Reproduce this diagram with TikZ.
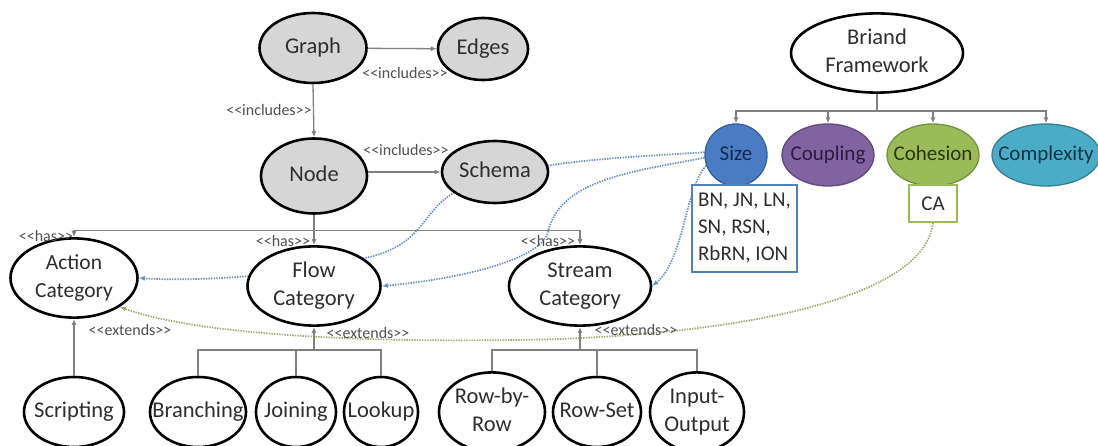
\documentclass[tikz,border=0pt]{standalone}
\usepackage{fontspec}
\setmainfont{Carlito}[Ligatures=TeXOff]
\usetikzlibrary{shapes.geometric,arrows.meta,backgrounds}

\definecolor{nodegray}{HTML}{D6D6D6}
\definecolor{txt}{HTML}{2E2E2E}
\definecolor{lblgray}{HTML}{505050}
\definecolor{linkgray}{HTML}{808080}
\definecolor{sizefill}{HTML}{4A7CC4}
\definecolor{sizedraw}{HTML}{35609A}
\definecolor{sizetext}{HTML}{15294A}
\definecolor{coupfill}{HTML}{8064A2}
\definecolor{coupdraw}{HTML}{5F4A7C}
\definecolor{couptext}{HTML}{2C1A42}
\definecolor{cohfill}{HTML}{9BBB59}
\definecolor{cohdraw}{HTML}{76903F}
\definecolor{cohtext}{HTML}{27360C}
\definecolor{cpxfill}{HTML}{4BACC6}
\definecolor{cpxdraw}{HTML}{377F93}
\definecolor{cpxtext}{HTML}{0F3347}
\definecolor{boxblue}{HTML}{4F81BD}
\definecolor{dotblue}{HTML}{6C8CC4}
\definecolor{dotolive}{HTML}{A3A66E}

\pgfdeclarelayer{canvas}
\pgfsetlayers{canvas,background,main}

% two-line centred text that never widens its ellipse
\newcommand{\ctext}[1]{\makebox[0pt]{\begin{tabular}{@{}c@{}}#1\end{tabular}}}
\newcommand{\mainsz}{\fontsize{22.5}{28}\selectfont}
\newcommand{\boxsz}{\fontsize{21}{27}\selectfont}
\newcommand{\lblsz}{\fontsize{16}{18}\selectfont}

\tikzset{
  oval/.style={ellipse, draw=black, line width=2.6pt, fill=white, inner sep=0pt,
               text=txt, font=\mainsz},
  grayoval/.style={oval, fill=nodegray},
  metric/.style={ellipse, inner sep=0pt, line width=1.3pt, font=\boxsz,
                 minimum height=62pt},
  connarrow/.style={draw=linkgray, line width=1.3pt, -{Latex[length=6pt,width=5pt]}},
  connline/.style={draw=linkgray, line width=1.3pt},
  stereo/.style={font=\lblsz, text=lblgray, inner sep=0pt},
  sizedot/.style={draw=dotblue, line width=1.7pt, dash pattern=on 1.4pt off 1.2pt,
                  -{Latex[length=6pt,width=5pt]}},
  cadot/.style={draw=dotolive, line width=1.7pt, dash pattern=on 1.4pt off 1.2pt,
                -{Latex[length=6pt,width=5pt]}},
  listbox/.style={draw, line width=2pt, fill=white, font=\boxsz, text=txt},
}

\begin{document}
\begin{tikzpicture}[x=1pt, y=-1pt]
\useasboundingbox (0,0) rectangle (1098,446);
\begin{pgfonlayer}{canvas}
  \fill[white] (0,0) rectangle (1098,446);
\end{pgfonlayer}

% ---- graph model ----
\node[grayoval, minimum width=107pt, minimum height=70pt] (graph) at (313,48) {\ctext{Graph}};
\node[grayoval, minimum width=90pt, minimum height=62pt] (edges) at (483,49) {\ctext{Edges}};
\node[grayoval, minimum width=106pt, minimum height=75pt] (node) at (314,176) {\ctext{Node}};
\node[grayoval, minimum width=106pt, minimum height=62pt] (schema) at (495,172) {\ctext{Schema}};

% ---- categories ----
\node[oval, minimum width=127pt, minimum height=72pt, font=\fontsize{21.5}{28}\selectfont] (action) at (74,278) {\ctext{Action\\Category}};
\node[oval, minimum width=133pt, minimum height=70pt] (flow) at (314,286) {\ctext{Flow\\Category}};
\node[oval, minimum width=142pt, minimum height=72pt] (stream) at (580,286) {\ctext{Stream\\Category}};

% ---- component kinds ----
\node[oval, minimum width=100pt, minimum height=70pt] (scripting) at (74,412) {\ctext{Scripting}};
\node[oval, minimum width=96pt, minimum height=70pt] (branching) at (198,412) {\ctext{Branching}};
\node[oval, minimum width=80pt, minimum height=70pt] (joining) at (296,412) {\ctext{Joining}};
\node[oval, minimum width=74pt, minimum height=70pt] (lookup) at (381,412) {\ctext{Lookup}};
\node[oval, minimum width=106pt, minimum height=70pt] (rowbyrow) at (492,412) {\ctext{Row-by-\\Row}};
\node[oval, minimum width=88pt, minimum height=70pt] (rowset) at (597,412) {\ctext{Row-Set}};
\node[oval, minimum width=94pt, minimum height=70pt] (inout) at (697,412) {\ctext{Input-\\Output}};

% ---- Briand framework ----
\node[oval, minimum width=172pt, minimum height=74pt] (briand) at (877,53) {\ctext{Briand\\Framework}};
\node[metric, fill=sizefill, draw=sizedraw, text=sizetext, minimum width=62pt] (size) at (736,155) {\ctext{Size}};
\node[metric, fill=coupfill, draw=coupdraw, text=couptext, minimum width=92pt] (coupling) at (828,155) {\ctext{Coupling}};
\node[metric, fill=cohfill, draw=cohdraw, text=cohtext, minimum width=92pt] (cohesion) at (933,155) {\ctext{Cohesion}};
\node[metric, fill=cpxfill, draw=cpxdraw, text=cpxtext, minimum width=108pt] (complexity) at (1046,155) {\ctext{Complexity}};
\node[listbox, draw=boxblue, minimum width=105pt, minimum height=87pt, align=left, inner sep=4pt] (sizebox) at (744.5,228.5) {BN, JN, LN,\\SN, RSN,\\RbRN, ION};
\node[listbox, draw=cohfill, minimum width=48pt, minimum height=37pt, inner sep=2pt] (ca) at (933,203.5) {CA};

% ---- includes ----
\draw[connarrow] (graph) -- (edges);
\node[stereo] (inc1) at (405,73) {<<includes>>};
\draw[connarrow] (graph.south) -- (node.north);
\node[stereo] (inc2) at (269,110) {<<includes>>};
\draw[connarrow] (node.east |- schema.west) -- (schema.west);
\node[stereo] (inc3) at (406,150) {<<includes>>};

% ---- has ----
\draw[connline] (node.south) -- ++(0,16) coordinate (hasj);
\draw[connarrow] (hasj) -| (action.north);
\draw[connarrow] (hasj) -- (flow.north);
\draw[connarrow] (hasj) -| (stream.north);
\node[stereo] (has1) at (46,236) {<<has>>};
\node[stereo] (has2) at (283,241) {<<has>>};
\node[stereo] (has3) at (548,241) {<<has>>};

% ---- extends ----
\draw[connarrow] (scripting.north) -- (action.south);
\node[stereo] (ext1) at (130,330) {<<extends>>};

\coordinate (fj) at (flow.south |- 0,350);
\draw[connline] (branching.north) -- (branching.north |- fj) -- (lookup.north |- fj) -- (lookup.north);
\draw[connline] (joining.north) -- (joining.north |- fj);
\draw[connarrow] (fj) -- (flow.south);
\node[stereo] (ext2) at (368,333) {<<extends>>};

\coordinate (sj) at (stream.south |- 0,350);
\draw[connline] (rowbyrow.north) -- (rowbyrow.north |- sj) -- (inout.north |- sj) -- (inout.north);
\draw[connline] (rowset.north) -- (rowset.north |- sj);
\draw[connarrow] (sj) -- (stream.south);
\node[stereo] (ext3) at (636,330) {<<extends>>};

% ---- framework tree ----
\draw[connline] (briand.south) -- ++(0,17) coordinate (bj);
\draw[connarrow] (bj) -| (size.north);
\draw[connarrow] (bj) -| (coupling.north);
\draw[connarrow] (bj) -| (cohesion.north);
\draw[connarrow] (bj) -| (complexity.north);

% ---- metric links, passing behind the ovals ----
\begin{pgfonlayer}{background}
  \draw[sizedot] (size.175) .. controls (620,158) and (520,160) .. (455,192)
                 .. controls (420,212) and (425,245) .. (365,258)
                 .. controls (300,275) and (200,282) .. (action.east);
  \draw[sizedot] (size.185) .. controls (630,172) and (560,180) .. (548,232)
                 .. controls (540,262) and (450,280) .. (flow.east);
  \draw[sizedot] (size.200) .. controls (686,185) and (684,260) .. (stream.east);
  \draw[cadot] (ca.south) .. controls (925,290) and (780,330) .. (560,339)
               .. controls (380,344) and (200,336) .. (action.south east);
\end{pgfonlayer}
\end{tikzpicture}
\end{document}
